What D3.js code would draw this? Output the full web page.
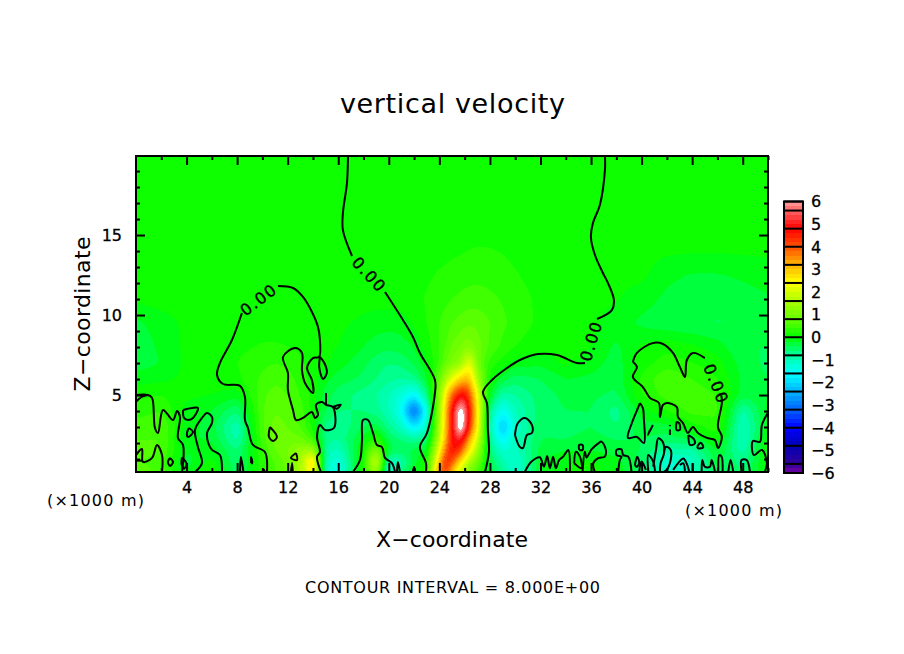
<!DOCTYPE html>
<html>
<head>
<meta charset="utf-8">
<script src="https://cdn.jsdelivr.net/npm/d3@7"></script>
<style>
  html, body { margin: 0; background: #fff; }
  text { font-family: "DejaVu Sans", sans-serif; fill: #000; }
</style>
</head>
<body>
<svg id="chart" width="904" height="654"></svg>
<script>
// grid of the velocity field, km (denser around the plume)
const gridX = [0,2,4,6,8,10,11,12,13,14,15,16,18,19,20,21,22,23,24,24.5,25,25.7,26.2,26.6,27,27.5,28,29,30,32,34,36,38,40,42,44,46,48,50];
const gridZ = [0.2,0.8,1.5,2.2,3,4,5,6,7,8,9.5,11,12.5,14.5,20];

const wZ0_2 = [.8,.5,-.2,.2,-.5,.3,.6,.8,1.6,2.6,-1.1,-1.5,.2,1.5,-1.5,-.6,-.2,.3,3.6,4.3,3,1.8,1.2,.8,.5,.2,-.3,-.7,-1.2,-.2,0,.05,-.1,-.5,-1.2,-1,-.4,-.6,.1];
const wZ0_8 = [.6,.5,-.3,.1,-.6,.3,.6,.9,1.5,3,-1,-1.4,.2,2.2,-1.2,-.9,-.3,.2,3,4.7,4,2.6,1.8,1.3,.9,.3,-.4,-.9,-1.3,-.2,0,.05,-.1,-.5,-1.3,-1.1,-.3,-.7,.1];
const wZ1_5 = [.7,.6,-.2,-.1,-.6,.4,.8,1,1.4,1.6,-.9,-1.1,.1,1.3,-.3,-.5,-.3,-.2,2.4,3.8,4.9,4,2.8,2.2,1.5,.5,-.6,-1.2,-1.1,-.3,-.2,-.2,-.3,-.4,-.9,-.9,-.2,-.9,.1];
const wZ2_2 = [.6,.6,-.2,-.2,-.9,.5,.9,.9,.9,.5,-.7,-.8,-.1,.4,-.4,-.6,-.7,-.6,1.8,3.2,4.8,5.2,3.6,2.8,2,.7,-.8,-1.7,-1,-.4,-.4,-.3,-.4,-.4,-.5,-.4,.1,-1.1,.1];
const wZ3 = [.5,.6,-.1,-.3,-1,.6,.9,.8,.6,.1,-.7,-.8,-.4,-.3,-.7,-1.1,-1.8,-1.2,1.6,3,4.7,7,5,3.6,2.6,.8,-1,-2.3,-1.2,-.4,-.5,-.4,-.6,-.3,-.3,.1,.35,-1.1,-.1];
const wZ4 = [.3,.4,-.1,-.2,-.6,.6,.8,.7,.5,.1,-.4,-.6,-.6,-.7,-1,-1.5,-3.4,-1.4,1.4,3,4.7,6.8,5.3,3.8,2.7,.9,-.8,-1.6,-1,-.5,-.4,-.4,-.7,-.1,.2,.5,.45,-.9,-.1];
const wZ5 = [.15,.2,.05,0,-.1,.55,.7,.6,.4,.1,-.3,-.5,-.7,-.8,-1,-1.3,-1.7,-.7,1.2,2.6,3.9,4.9,4.6,3.4,2.4,.9,-.2,-.9,-.8,-.5,-.35,-.35,-.45,.2,.5,.55,.4,-.3,-.2];
const wZ6 = [-.1,-.05,.05,.1,.15,.45,.55,.5,.3,.1,-.15,-.3,-.45,-.6,-.75,-.8,-.7,-.2,.8,1.6,2.2,2.9,3.2,2.6,1.6,.7,.1,-.3,-.5,-.4,-.2,-.25,-.35,.25,.6,.4,.2,-.25,-.4];
const wZ7 = [-.3,-.2,.05,.15,.2,.35,.4,.35,.25,.1,.05,-.1,-.35,-.5,-.6,-.55,-.35,-.05,.4,.8,1.1,1.3,2.2,2,1,.6,.3,.1,-.1,-.15,.05,-.1,-.3,.1,.3,.2,.1,-.3,-.45];
const wZ8 = [-.35,-.15,.05,.12,.15,.22,.22,.2,.15,.1,.05,0,-.2,-.3,-.35,-.3,-.2,.1,.4,.6,.85,1,1.2,1.1,.9,.75,.55,.35,.2,.05,.15,0,-.25,.05,.15,.05,-.1,-.4,-.4];
const wZ9_5 = [-.25,-.1,.05,.1,.1,.12,.12,.12,.1,.1,.08,.05,-.05,-.1,-.12,-.1,.05,.2,.4,.5,.6,.7,.75,.75,.75,.7,.6,.45,.32,.15,.1,.05,-.1,-.25,-.35,-.4,-.42,-.4,-.35];
const wZ11 = [.05,.1,.1,.1,.1,.1,.1,.1,.1,.1,.1,.1,.08,.08,.1,.1,.15,.22,.3,.35,.4,.45,.48,.5,.5,.48,.45,.38,.3,.15,.05,.05,.02,-.1,-.25,-.3,-.3,-.28,-.22];
const wZ12_5 = [.1,.1,.1,.1,.1,.1,.1,.1,.1,.1,.1,.1,.1,.1,.1,.1,.12,.17,.22,.25,.28,.3,.32,.33,.33,.33,.32,.28,.22,.1,.05,.05,.05,.05,-.15,-.22,-.22,-.17,-.12];
const wZ14_5 = [.1,.1,.1,.1,.1,.1,.1,.1,.1,.1,.1,.1,.1,.1,.1,.1,.1,.1,.1,.1,.12,.14,.16,.18,.18,.18,.18,.16,.12,.1,.1,.1,.1,.1,.1,.1,.1,.1,.1];
const wZ20 = [.1,.1,.1,.1,.1,.1,.1,.1,.1,.1,.1,.1,.1,.1,.1,.1,.1,.1,.1,.1,.1,.1,.1,.1,.1,.1,.1,.1,.1,.1,.1,.1,.1,.1,.1,.1,.1,.1,.1];
const wRows = [wZ0_2,wZ0_8,wZ1_5,wZ2_2,wZ3,wZ4,wZ5,wZ6,wZ7,wZ8,wZ9_5,wZ11,wZ12_5,wZ14_5,wZ20];

// zero contour, traced as [x km, z km]
const zeroMain = [
  [[10.36,.19],[10.2,1.44],[9.25,1.88],[8.86,2.94],[8.62,3.44],[8.62,4.88],[8.23,5.57],[6.88,5.69],[6.41,6.25],[6.64,7],[7.59,8.44],[8.38,10.13]],
  [[11.23,11.81],[12.42,11.69],[13.21,11.13],[13.92,10.19],[14.4,9.25],[14.55,8.44],[14.48,7.38],[14,7.31],[13.53,6.69],[13.92,5.94],[14,5.13],[13.37,5.75],[13.13,6.56],[13.13,7.63],[12.58,7.94],[11.63,7.38],[12.02,6.38],[12.02,5.32],[12.42,4.07],[12.66,3.44],[13.21,3.57],[13.92,3.94],[14.16,3.57],[14.4,3.75],[14.24,4.38],[14.71,4.57],[15.03,4.38],[15.58,4.25],[15.66,2.94],[14.95,2.82],[14.55,3.13],[14.32,2.38],[14.55,1.44],[14.32,1.13],[14.63,.19]],
  [[15.03,4.38],[15.03,5.13]],
  [[15.58,4.25],[16.2,4.4],[15.9,4.15],[15.58,4.25]],
  [[14.55,7.38],[14.9,7],[15.1,6.4],[14.8,6],[14.5,6.7],[14.55,7.38]],
  [[16.77,19.94],[16.77,19.82],[16.69,18.25],[16.37,16.38],[16.37,15.31],[17.09,13.69]],
  [[19.7,11.44],[21.12,9.69],[21.91,8.63],[22.46,7.63],[23.65,5.94],[23.65,5.13],[23.02,2.63],[22.46,1.75],[22.94,.75],[22.94,.19]],
  [[27.61,.19],[27.92,1.44],[27.84,2.82],[27.76,4.5],[27.45,5.19],[28.16,5.94],[29.35,6.69],[30.37,7.19],[31.8,7.56],[33.3,7.5],[34.88,7],[35.52,7]],
  [[36.47,9.75],[37.65,10.31],[37.81,10.94],[37.34,12],[36.94,12.63],[36.31,13.75],[35.99,14.88],[36.15,15.75],[36.7,16.88],[37.1,19.07],[37.1,19.94]],
  [[0,5],[.95,5],[1.27,4.82],[1.5,2.94],[1.74,2.63],[2.14,4.07],[2.93,3.44],[3.24,4],[3.48,3.63],[3.32,2.32],[3.72,1.88],[3.64,.19]],
  [[0,4.57],[.47,4.9],[.95,5]],
  [[0,1.25],[.47,1.63],[.55,.82],[1.27,1.07],[1.66,1.88],[2.06,1.25],[2.06,.19]],
  [[0,.9],[.55,.9]],
  [[4.67,.19],[5.22,.75],[4.9,1.75],[4.67,2.82],[5.22,3.57],[5.62,3.88],[6.01,3.63],[6.01,3.25],[5.62,2.63],[5.77,1.88],[6.01,1.57],[6.64,1.25],[6.8,.19]],
  [[3.72,4.07],[4.43,4.19],[4.9,4.19],[4.51,3.57],[4.11,3.44],[3.8,3.57],[3.72,4.07]],
  [[4.19,2.94],[4.51,2.69],[4.11,2.38],[4.03,2.63],[4.19,2.94]],
  [[2.69,1.07],[2.93,.82],[2.69,.57],[2.53,.82],[2.69,1.07]],
  [[3.64,1.1],[4,.7],[3.8,.4],[3.6,.7],[3.64,1.1]],
  [[8.23,.19],[8.3,1.13],[8.5,.19]],
  [[9.1,.75],[9.1,1.13],[9.2,.75],[9.1,.75]],
  [[10,.19],[10.1,.35],[10.2,.19]],
  [[12.26,.19],[12.35,.75],[12.4,.19]],
  [[10.6,3],[11.15,2.38],[10.84,2.13],[10.52,2.38],[10.6,3]],
  [[12.66,1.38],[12.74,.94],[12.26,1.07],[12.66,1.38]],
  [[17.16,.19],[17.72,.94],[17.88,2.19],[17.96,3.44],[18.35,3.44],[18.75,2.63],[19.06,1.88],[19.46,1.75],[19.7,1.07],[20.25,.75],[20.49,.19]],
  [[20.65,.19],[20.72,.82],[20.88,.19]],
  [[21.9,.19],[22,.5],[22.1,.19]],
  // island right of the plume
  [[29.98,2.5],[30.21,3.25],[30.77,3.57],[31.32,3.13],[31.32,2.63],[30.93,2.5],[30.61,1.69],[30.37,1.75],[29.98,2.5]],
  // low fringe, x 30-38
  [[30.77,.21],[31.29,.84],[31.95,1.11],[32.27,.52],[32.53,1.19],[32.74,.42],[33,1.15],[33.22,.42],[33.48,.94],[33.8,1.15],[34.2,1.57],[34.33,.21]],
  [[34.67,.73],[34.8,1.46],[35.12,1.15],[35.25,.42],[34.67,.73]],
  [[35.06,1.57],[35.33,1.57],[35.33,1.88],[35.06,1.88],[35.06,1.57]],
  [[35.33,.21],[35.51,1.46],[35.64,1.1],[36.04,1.6],[36.57,1.98],[36.83,2.09],[37.17,1.57],[37.09,1.15],[36.57,1.05],[36.17,.73],[36.3,.21]],
  [[38.15,.21],[38.28,.94],[38.41,1.15],[38.02,1.25],[38.02,1.57],[38.41,1.6],[38.54,1.25],[38.94,1.15],[39.2,.21]],
  [[39.47,.63],[39.65,1.15],[39.81,.73],[39.6,.52],[39.47,.63]],
  [[39.81,.21],[40,.84],[40.34,.32]],
  // low fringe, x 40-50
  [[40.53,.21],[40.53,1.25],[40.92,.84],[41.06,.21]],
  [[40.92,.52],[41.14,1.57],[41.32,2.29],[41.66,2.09],[41.77,1.36],[41.5,.73],[41.45,.21]],
  [[41.77,1.36],[41.93,1.77],[42.3,1.57],[42.3,.94],[41.98,.32],[41.77,.21]],
  [[42.5,.32],[43.3,1.04],[43.56,.73],[43.77,.21]],
  [[43.03,.63],[43.3,.73],[43.43,.21]],
  [[44.04,.73],[44.04,.21]],
  [[44.75,.21],[44.8,.94],[45,.52],[45.41,.52],[45.54,.94],[45.72,.52],[45.8,.21]],
  [[46.07,.21],[46.15,1.25],[46.33,1.15],[46.41,.21]],
  [[46.86,.21],[47.04,.94],[47.25,.21]],
  [[47.91,.21],[47.91,.94],[48.31,.94],[48.57,.21]],
  [[39.87,4.5],[40.1,4.19],[40.18,3.5],[40.18,2],[39.63,2.38],[38.92,2.32],[39.23,3.25],[39.71,4.19],[39.87,4.5]],
  [[40.89,3.13],[40.5,2.5],[40.66,2.82]],
  [[42.24,3.13],[42.24,3.05]],
  [[42.24,2.85],[42.24,2.5]],
  [[42.77,3.34],[42.98,3.23],[43.03,2.82],[42.77,2.82],[42.77,3.34]],
  [[43.7,2.5],[44.09,2.29],[44.22,1.98],[43.83,1.88],[43.7,2.5]],
  [[44.4,1.77],[44.67,2.02],[44.88,1.73],[44.48,1.67],[44.4,1.77]],
  [[39.31,7.06],[39.63,7.63],[40.89,8.25],[41.69,8.19],[42.48,7.63],[43.03,6.75],[43.43,6.13],[43.58,7.19],[44.06,7.63],[45,7.31]],
  [[39.31,7.06],[39.63,6.75],[39.31,6.13],[40.1,5.5],[40.66,4.82],[41.37,4.5],[41.45,3.63],[41.69,4.38],[42,4.5],[42.79,4.25],[42.87,3.63],[43.27,3.25],[43.66,2.63],[44.06,3],[44.45,2.63],[45.17,2.32],[45.8,2.19],[46.04,1.69],[46.35,2.38],[46.04,3],[46.35,4.5],[46.3,5]],
  [[50,3.9],[49.52,3.13],[49.36,2.07],[48.8,2.13],[48.88,1.25],[49.52,1.57],[49.91,.75],[49.75,.19]]
];

// the "0.00" labels on the contour
const labelX = [9.7, 18.45, 36, 45.9];
const labelZ = [10.97, 12.53, 8.38, 5.69];
const labelAngle = [-37, 47, -73, 68];

const xMajor = [4,8,12,16,20,24,28,32,36,40,44,48];
const xMinor = [2,6,10,14,18,22,26,30,34,38,42,46,50];
const zMajor = [5,10,15];
const zMinor = [1,2,3,4,6,7,8,9,11,12,13,14,16,17,18,19];
const barTicks = [6,5,4,3,2,1,0,-1,-2,-3,-4,-5,-6];
const barCells = [-6,-5.6,-4.8,-4,-3.2,-2.4,-1.6,-.8,0,.8,1.6,2.4,3.2,4,4.8,5.6,6];

// colour table of the shading
const colorStops = [-6,-5.6,-4.8,-4,-3.2,-2.4,-1.6,-.8,0,.8,1.6,2.4,3.2,4,4.8,5.6,6];
const colorValues = ["#6e00a0","#32009a","#0000b4","#0000ff","#0064ff","#00b4ff","#00ffff","#00ffa0","#00ff00","#64ff00","#aaff00","#ffff00","#ffb400","#ff5000","#ff0000","#ff6464","#ffa0a0"];

const color = d3.scaleLinear().domain(colorStops).range(colorValues).interpolate(d3.interpolateRgb);
const bandStep = 0.2;
const levels = d3.range(-30, 31).map(i => i * bandStep);
const bandColor = t => t >= 6 ? "#ffffff" : color(t + bandStep / 2);

const svg = d3.select("#chart");
const plot = { left: 136, right: 768, top: 156, bottom: 472 };
const x = d3.scaleLinear().domain([0, 50]).range([plot.left, plot.right]);
const z = d3.scaleLinear().domain([0.19, 19.94]).range([plot.bottom, plot.top]);

svg.append("clipPath").attr("id", "plotClip").append("rect")
  .attr("x", plot.left).attr("y", plot.top)
  .attr("width", plot.right - plot.left).attr("height", plot.bottom - plot.top);

// resample the read-off grid to a regular one for d3.contours
const nx = 316, ny = 158;
const sampleX = d3.range(nx).map(i => i / (nx - 1) * 50);
const sampleZ = d3.range(ny).map(j => 0.19 + j / (ny - 1) * (19.94 - 0.19));
function segment(axis, v) {
  const i = Math.min(Math.max(d3.bisectRight(axis, v) - 1, 0), axis.length - 2);
  return [i, Math.max(0, Math.min(1, (v - axis[i]) / (axis[i + 1] - axis[i])))];
}
let values = new Float64Array(nx * ny);
sampleZ.forEach((vz, j) => {
  const [iz, tz] = segment(gridZ, vz);
  sampleX.forEach((vx, i) => {
    const [ix, tx] = segment(gridX, vx);
    const a = wRows[iz][ix] * (1 - tx) + wRows[iz][ix + 1] * tx;
    const b = wRows[iz + 1][ix] * (1 - tx) + wRows[iz + 1][ix + 1] * tx;
    values[j * nx + i] = a * (1 - tz) + b * tz;
  });
});
d3.blur2({ data: values, width: nx, height: ny }, 1);

const project = d3.geoTransform({
  point(px, py) {
    this.stream.point(x((px - 0.5) / (nx - 1) * 50), z(0.19 + (py - 0.5) / (ny - 1) * (19.94 - 0.19)));
  }
});
const bands = d3.contours().size([nx, ny]).thresholds(levels)(values);

const field = svg.append("g").attr("clip-path", "url(#plotClip)");
field.append("rect")
  .attr("x", plot.left).attr("y", plot.top)
  .attr("width", plot.right - plot.left).attr("height", plot.bottom - plot.top)
  .attr("fill", color(-6));
field.selectAll("path.band")
  .data(bands)
  .enter().append("path")
  .attr("class", "band")
  .attr("d", d3.geoPath(project))
  .attr("fill", d => bandColor(d.value))
  .attr("shape-rendering", "crispEdges");

// zero contour
const zeroLine = d3.line().x(d => x(d[0])).y(d => z(d[1])).curve(d3.curveCatmullRom.alpha(0.5));
field.selectAll("path.zero")
  .data(zeroMain)
  .enter().append("path")
  .attr("class", "zero")
  .attr("d", zeroLine)
  .attr("fill", "none")
  .attr("stroke", "#000")
  .attr("stroke-width", 2);

svg.selectAll("text.zeroLabel")
  .data(labelX)
  .enter().append("text")
  .attr("class", "zeroLabel")
  .attr("text-anchor", "middle")
  .attr("dy", "0.36em")
  .attr("font-size", 16)
  .attr("letter-spacing", 1.5)
  .attr("stroke", "#000")
  .attr("stroke-width", 0.4)
  .attr("transform", (d, i) => `translate(${x(d)},${z(labelZ[i])}) rotate(${labelAngle[i]})`)
  .text("0.00");

// ticks point inwards on all four sides
function drawAxis(axis, transform, cls) {
  const g = svg.append("g").attr("class", cls).attr("transform", transform).call(axis);
  g.select(".domain").remove();
  g.selectAll("line").attr("stroke", "#000").attr("stroke-width", 2);
  g.selectAll("text").attr("font-size", 16).attr("font-family", null).attr("stroke", "#000").attr("stroke-width", 0.3);
  return g;
}
const majorLen = 9, minorLen = 4;
drawAxis(d3.axisBottom(x).tickValues(xMajor).tickSize(-majorLen).tickPadding(10), `translate(0,${plot.bottom})`, "xMajor");
drawAxis(d3.axisBottom(x).tickValues(xMinor).tickSize(-minorLen).tickFormat(""), `translate(0,${plot.bottom})`, "xMinor");
drawAxis(d3.axisTop(x).tickValues(xMajor).tickSize(-majorLen).tickFormat(""), `translate(0,${plot.top})`, "xTop");
drawAxis(d3.axisTop(x).tickValues(xMinor).tickSize(-minorLen).tickFormat(""), `translate(0,${plot.top})`, "xTopMinor");
drawAxis(d3.axisLeft(z).tickValues(zMajor).tickSize(-majorLen).tickPadding(14), `translate(${plot.left},0)`, "zMajor");
drawAxis(d3.axisLeft(z).tickValues(zMinor).tickSize(-minorLen).tickFormat(""), `translate(${plot.left},0)`, "zMinor");
drawAxis(d3.axisRight(z).tickValues(zMajor).tickSize(-majorLen).tickFormat(""), `translate(${plot.right},0)`, "zRight");
drawAxis(d3.axisRight(z).tickValues(zMinor).tickSize(-minorLen).tickFormat(""), `translate(${plot.right},0)`, "zRightMinor");

svg.append("rect")
  .attr("x", plot.left).attr("y", plot.top)
  .attr("width", plot.right - plot.left).attr("height", plot.bottom - plot.top)
  .attr("fill", "none").attr("stroke", "#000").attr("stroke-width", 2);

// colour bar
const barY = d3.scaleLinear().domain([-6, 6]).range([473, 201.5]);
const barLeft = 784, barWidth = 19;
const barBands = levels.slice(0, -1);
svg.append("g").selectAll("rect")
  .data(barBands)
  .enter().append("rect")
  .attr("x", barLeft)
  .attr("y", d => barY(d + bandStep))
  .attr("width", barWidth)
  .attr("height", d => barY(d) - barY(d + bandStep))
  .attr("fill", d => bandColor(d))
  .attr("shape-rendering", "crispEdges");
svg.append("g").selectAll("line")
  .data(barCells)
  .enter().append("line")
  .attr("x1", barLeft).attr("x2", barLeft + barWidth)
  .attr("y1", d => barY(d)).attr("y2", d => barY(d))
  .attr("stroke", "#000").attr("stroke-width", 2);
svg.append("rect")
  .attr("x", barLeft).attr("y", barY(6))
  .attr("width", barWidth).attr("height", barY(-6) - barY(6))
  .attr("fill", "none").attr("stroke", "#000").attr("stroke-width", 2);
svg.append("g").selectAll("text")
  .data(barTicks)
  .enter().append("text")
  .attr("x", 811)
  .attr("y", d => barY(d))
  .attr("dy", "0.36em")
  .attr("font-size", 16)
  .attr("stroke", "#000")
  .attr("stroke-width", 0.3)
  .text(d => d < 0 ? "\u2212" + Math.abs(d) : d);

// titles
function label(str, px, py, size, width, anchor) {
  return svg.append("text")
    .attr("x", px).attr("y", py)
    .attr("font-size", size)
    .attr("text-anchor", anchor || "middle")
    .attr("textLength", width)
    .attr("lengthAdjust", "spacing")
    .text(str);
}
label("vertical velocity", 452.5, 113, 27, 225);
label("X\u2212coordinate", 452, 547, 22, 152);
label("CONTOUR INTERVAL = 8.000E+00", 452.5, 593, 16, 295);
label("(\u00d71000 m)", 47, 506, 16, 97, "start");
label("(\u00d71000 m)", 685, 516, 16, 97, "start");
svg.append("text")
  .attr("transform", "translate(90,314) rotate(-90)")
  .attr("font-size", 22)
  .attr("text-anchor", "middle")
  .attr("textLength", 155)
  .attr("lengthAdjust", "spacing")
  .text("Z\u2212coordinate");
</script>
</body>
</html>
